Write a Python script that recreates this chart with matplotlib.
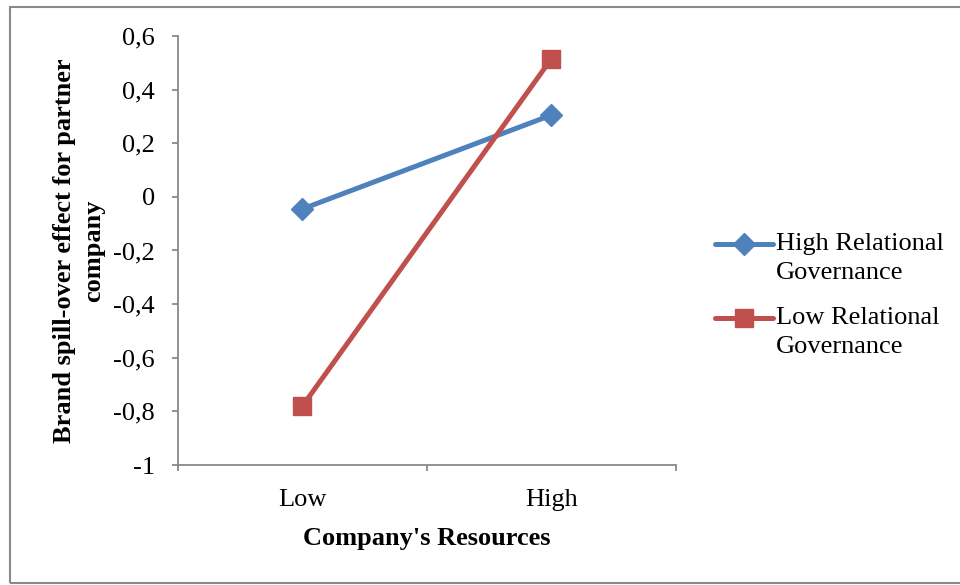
import matplotlib.pyplot as plt
from matplotlib.lines import Line2D
from matplotlib.patches import Rectangle
from matplotlib.ticker import FixedLocator, FuncFormatter

categories = ["Low", "High"]
high_rg = [-0.045, 0.305]
low_rg = [-0.78, 0.515]
yticks = [-1, -0.8, -0.6, -0.4, -0.2, 0, 0.2, 0.4, 0.6]
series_names = [("High Relational", "Governance"), ("Low Relational", "Governance")]

plt.rcParams['font.family'] = ['Liberation Serif', 'DejaVu Serif']
fs = 19
grey = '#898989'

fig = plt.figure(figsize=(9.6, 5.85), dpi=100)
ax = fig.add_axes([0.1854, 0.2051, 0.5186, 0.7334])

x = list(range(len(categories)))
l1, = ax.plot(x, high_rg, color='#4F81BD', lw=3.6, marker='D', ms=11,
              solid_capstyle='round')
l2, = ax.plot(x, low_rg, color='#C0504D', lw=3.6, marker='s', ms=13.5,
              solid_capstyle='round')

ax.set_xlim(-0.5, 1.5)
ax.set_ylim(-1, 0.6)
ax.xaxis.set_major_locator(FixedLocator([-0.5, 0.5, 1.5]))
ax.xaxis.set_major_formatter(FuncFormatter(lambda v, p: ''))
ax.xaxis.set_minor_locator(FixedLocator(x))
ax.set_xticklabels(categories, minor=True)
ax.tick_params(axis='x', which='minor', length=0, pad=17, labelsize=fs)
ax.tick_params(axis='x', which='major', length=4.5, color=grey, width=1.3)

ax.set_yticks(yticks)
ax.yaxis.set_major_formatter(FuncFormatter(
    lambda v, p: ('%g' % round(v, 1)).replace('.', ',')))
ax.tick_params(axis='y', length=4.5, color=grey, width=1.3, labelsize=fs, pad=12)

for s in ['top', 'right']:
    ax.spines[s].set_visible(False)
for s in ['left', 'bottom']:
    ax.spines[s].set_color(grey)
    ax.spines[s].set_linewidth(1.3)

ax.set_xlabel("Company's Resources", fontsize=fs, fontweight='bold', labelpad=12)
ax.set_ylabel("Brand spill-over effect for partner\ncompany", fontsize=fs,
              fontweight='bold', labelpad=6, linespacing=1.35)

# legend: sample line sits on the first line of each two-line label
W, H = 960, 585
for i, (line, (first, second)) in enumerate(zip([l1, l2], series_names)):
    yy = 1 - (244 + 74 * i) / H
    fig.add_artist(Line2D([715 / W, 744 / W, 773 / W], [yy] * 3,
                          transform=fig.transFigure, color=line.get_color(),
                          lw=line.get_linewidth(), marker=line.get_marker(),
                          ms=line.get_markersize(), markevery=[1],
                          solid_capstyle='round'))
    fig.text(776 / W, yy, first, fontsize=fs, va='center')
    fig.text(776 / W, yy - 29 / H, second, fontsize=fs, va='center')

fig.patches.append(Rectangle((10 / W, 2 / H), 1.1, 576 / H,
                             transform=fig.transFigure, fill=False,
                             edgecolor=grey, lw=1.5, clip_on=False))

fig.savefig('out.png', dpi=100)
